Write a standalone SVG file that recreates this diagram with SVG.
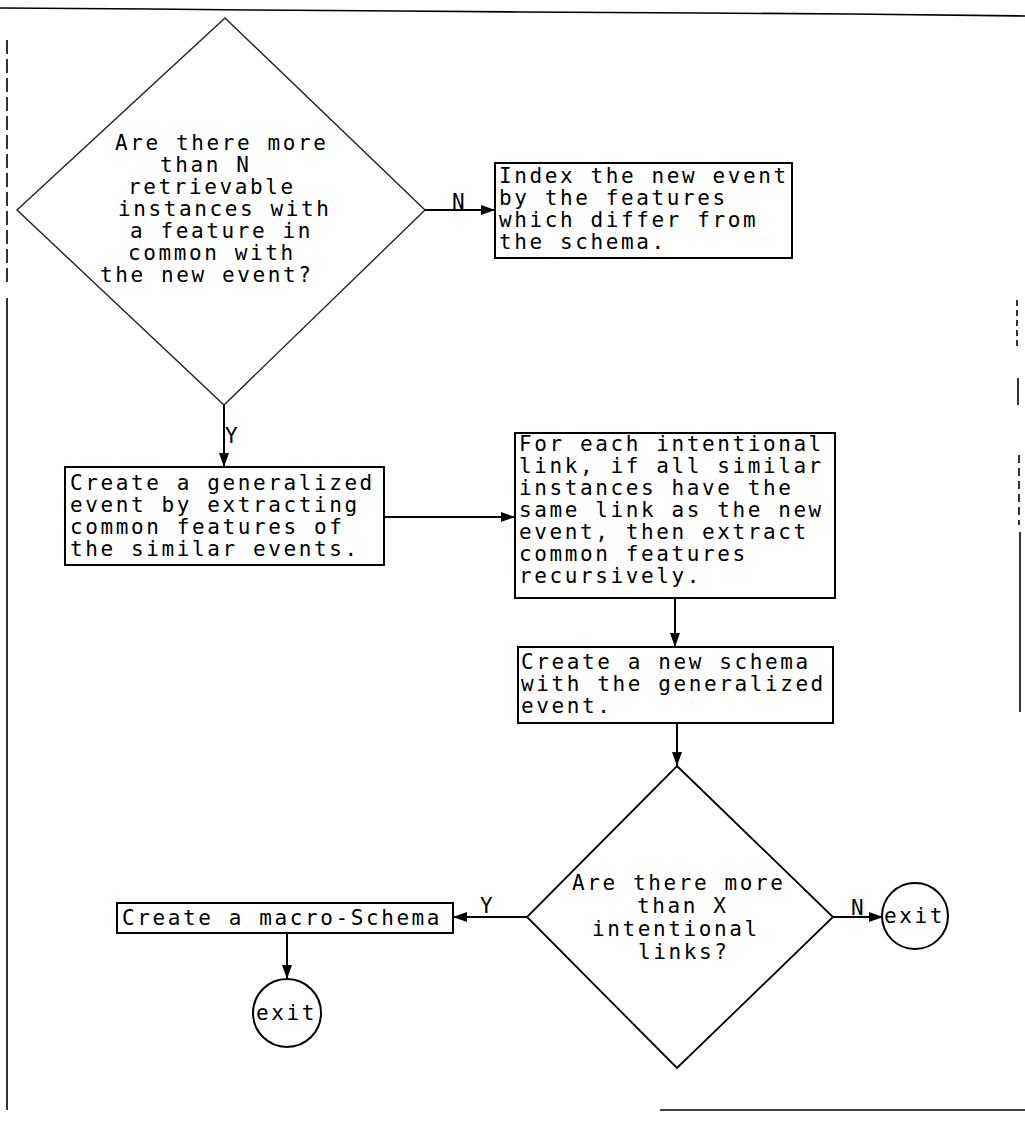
<svg xmlns="http://www.w3.org/2000/svg" width="1025" height="1122" viewBox="0 0 1025 1122">
<style>
.t{font-family:"DejaVu Sans Mono","Liberation Mono",monospace;font-size:21px;letter-spacing:2.6px;fill:#000}
.box{fill:#fff;stroke:#000;stroke-width:2}
.dia{fill:#fff;stroke:#000;stroke-width:1.8}
.dia1{fill:#fff;stroke:#222;stroke-width:1.4}
.ln{fill:none;stroke:#000;stroke-width:2}
.frame{fill:none;stroke:#000;stroke-width:1.6}
</style>
<defs>
<marker id="ah" viewBox="0 0 14 10" refX="14" refY="5" markerWidth="14" markerHeight="10" markerUnits="userSpaceOnUse" orient="auto">
<path d="M0,0 L14,5 L0,10 Z" fill="#000"/>
</marker>
</defs>
<g id="frame">
<polyline class="frame" points="0,8 150,9 250,10 400,11 520,12 700,13 850,14 1025,16"/>
<line class="frame" x1="7" y1="40" x2="7" y2="286" stroke-dasharray="14,5"/>
<line class="frame" x1="7" y1="298" x2="7" y2="1110"/>
<line class="frame" x1="1017" y1="300" x2="1017" y2="350" stroke-dasharray="6,4"/>
<line class="frame" x1="1018" y1="378" x2="1018" y2="405"/>
<line class="frame" x1="1019" y1="455" x2="1019" y2="525" stroke-dasharray="8,5"/>
<line class="frame" x1="1020" y1="532" x2="1020" y2="712"/>
<line class="frame" x1="660" y1="1110" x2="1025" y2="1110"/>
</g>
<g id="connectors">
<line class="ln" x1="425" y1="210" x2="495" y2="210" marker-end="url(#ah)"/>
<line class="ln" x1="224" y1="405" x2="224" y2="467" marker-end="url(#ah)"/>
<line class="ln" x1="384" y1="517" x2="515" y2="517" marker-end="url(#ah)"/>
<line class="ln" x1="675" y1="598" x2="675" y2="647" marker-end="url(#ah)"/>
<line class="ln" x1="677" y1="723" x2="677" y2="766" marker-end="url(#ah)"/>
<line class="ln" x1="833" y1="917" x2="883" y2="917" marker-end="url(#ah)"/>
<line class="ln" x1="527" y1="917" x2="453" y2="917" marker-end="url(#ah)"/>
<line class="ln" x1="287" y1="933" x2="287" y2="979" marker-end="url(#ah)"/>
<text class="t" x="452" y="209">N</text>
<text class="t" x="225" y="443">Y</text>
<text class="t" x="851" y="915">N</text>
<text class="t" x="480" y="913">Y</text>
</g>
<g id="decision1">
<polygon class="dia1" points="225,18 425,210 224,405 17,210"/>
<text class="t" x="115" y="150">Are there more</text>
<text class="t" x="160" y="172">than N</text>
<text class="t" x="128" y="194">retrievable</text>
<text class="t" x="118" y="216">instances with</text>
<text class="t" x="130" y="238">a feature in</text>
<text class="t" x="128" y="260">common with</text>
<text class="t" x="100" y="282">the new event?</text>
</g>
<g id="index-box">
<rect class="box" x="495" y="163" width="297" height="95"/>
<text class="t" x="499" y="183">Index the new event</text>
<text class="t" x="499" y="205">by the features</text>
<text class="t" x="499" y="227">which differ from</text>
<text class="t" x="499" y="249">the schema.</text>
</g>
<g id="generalize-box">
<rect class="box" x="65" y="467" width="319" height="98"/>
<text class="t" x="70" y="490">Create a generalized</text>
<text class="t" x="70" y="512">event by extracting</text>
<text class="t" x="70" y="534">common features of</text>
<text class="t" x="70" y="556">the similar events.</text>
</g>
<g id="links-box">
<rect class="box" x="515" y="433" width="320" height="165"/>
<text class="t" x="519" y="451">For each intentional</text>
<text class="t" x="519" y="473">link, if all similar</text>
<text class="t" x="519" y="495">instances have the</text>
<text class="t" x="519" y="517">same link as the new</text>
<text class="t" x="519" y="539">event, then extract</text>
<text class="t" x="519" y="561">common features</text>
<text class="t" x="519" y="583">recursively.</text>
</g>
<g id="schema-box">
<rect class="box" x="518" y="647" width="315" height="76"/>
<text class="t" x="521" y="669">Create a new schema</text>
<text class="t" x="521" y="691">with the generalized</text>
<text class="t" x="521" y="713">event.</text>
</g>
<g id="decision2">
<polygon class="dia" points="677,766 833,917 677,1068 527,917"/>
<text class="t" x="572" y="890">Are there more</text>
<text class="t" x="637" y="913">than X</text>
<text class="t" x="592" y="936">intentional</text>
<text class="t" x="638" y="959">links?</text>
</g>
<g id="exit-right">
<circle class="box" cx="915" cy="916" r="33"/>
<text class="t" x="884" y="923">exit</text>
</g>
<g id="macro-box">
<rect class="box" x="117" y="903" width="336" height="30"/>
<text class="t" x="122" y="925">Create a macro-Schema</text>
</g>
<g id="exit-left">
<circle class="box" cx="287" cy="1013" r="34"/>
<text class="t" x="256" y="1020">exit</text>
</g>
</svg>
